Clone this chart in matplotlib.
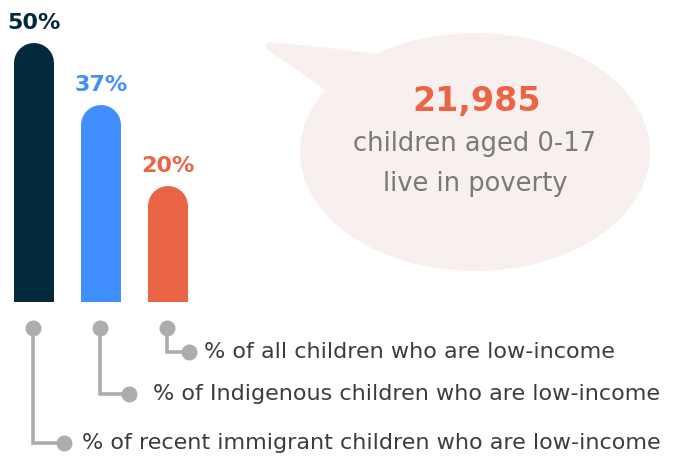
import matplotlib
matplotlib.use("Agg")
import matplotlib.pyplot as plt
import matplotlib.transforms as mtransforms
from matplotlib.patches import Ellipse, Polygon

#----- Data -----#

values = [50, 37, 20]
value_labels = ["50%", "37%", "20%"]
bar_colors = ["#022a3c", "#418fff", "#ec6446"]
categories = [
    "% of recent immigrant children who are low-income",
    "% of Indigenous children who are low-income",
    "% of all children who are low-income",
]
headline_number = "21,985"
headline_lines = ["children aged 0-17", "live in poverty"]

#----- Layout -----#

W, H = 681, 457
base_px = 302          # bar base, pixels from top
px_per_unit = 4.78     # pixels per percentage point
bar_step = 67          # px between bar centres
first_bar = 34         # px of first bar centre

fig = plt.figure(figsize=(W / 100, H / 100), dpi=100)

# background layer in pixel coordinates (y down)
lay = fig.add_axes([0, 0, 1, 1], zorder=0)
lay.set_xlim(0, W)
lay.set_ylim(H, 0)
lay.axis("off")

# bar axes
ax = fig.add_axes([0, 1 - base_px / H, 1, base_px / H], zorder=1)
ax.set_xlim(-first_bar / bar_step, (W - first_bar) / bar_step)
ax.set_ylim(0, base_px / px_per_unit)
ax.axis("off")
ax.patch.set_alpha(0)

# ---- speech bubble ----
bubble_col = "#f7f0ee"
lay.add_patch(Ellipse((475, 152), 350, 238, facecolor=bubble_col, edgecolor="none"))
lay.add_patch(Polygon(
    [(265, 45), (270, 42), (320, 47), (378, 54), (400, 90), (340, 115),
     (327, 93), (320, 86), (300, 72), (275, 55), (267, 49)],
    closed=True, facecolor=bubble_col, edgecolor="none"))

lay.text(477, 102, headline_number, color="#ec6446", fontsize=24,
         fontweight="bold", ha="center", va="center")
for i, line in enumerate(headline_lines):
    lay.text(475, 144 + 40 * i, line, color="#7a7a7a", fontsize=18.5,
             ha="center", va="center")

# ---- bars with rounded tops ----
lw_pt = 40 * 72 / 100
for i, (v, lab, c) in enumerate(zip(values, value_labels, bar_colors)):
    ax.plot([i, i], [-10, v], color=c, lw=lw_pt, solid_capstyle="round")
    ax.annotate(lab, (i, v), xytext=(0, 34), textcoords="offset pixels",
                ha="center", va="baseline", color=c, fontsize=16,
                fontweight="bold", annotation_clip=False)

# ---- connectors + category labels ----
trans = mtransforms.blended_transform_factory(ax.transData, lay.transData)
grey = "#adadad"
dot_y = 328
elbow_y = [443, 394, 352]
elbow_dx = [31, 29, 22]
text_gap = [18, 24, 15]
for i, cat in enumerate(categories):
    x0 = i - 0.02
    x1 = x0 + elbow_dx[i] / bar_step
    lay.plot([x0, x0, x1], [dot_y, elbow_y[i], elbow_y[i]], color=grey, lw=2.6,
             transform=trans, solid_capstyle="butt", solid_joinstyle="miter")
    lay.plot([x0, x1], [dot_y, elbow_y[i]], "o", color=grey, ms=11.5,
             transform=trans, markeredgewidth=0)
    lay.text(x1 + text_gap[i] / bar_step, elbow_y[i], cat, transform=trans,
             ha="left", va="center", fontsize=16, color="#3c3c3c")

fig.savefig("out.png", dpi=100)
